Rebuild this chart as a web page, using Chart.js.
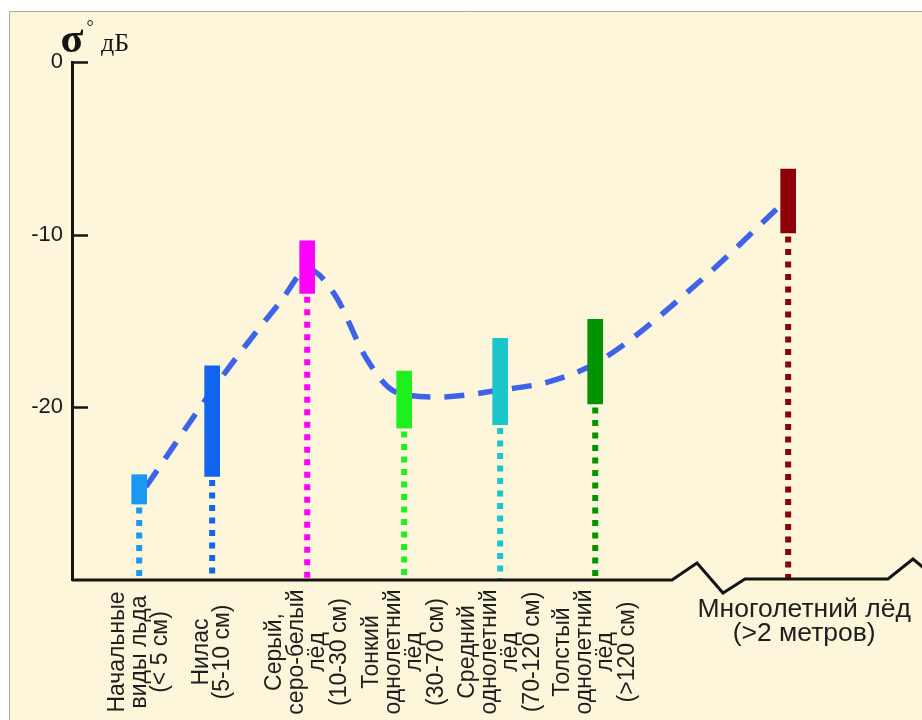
<!DOCTYPE html>
<html>
<head>
<meta charset="utf-8">
<script src="https://cdn.jsdelivr.net/npm/chart.js@4.4.1/dist/chart.umd.min.js"></script>
<style>
  html, body { margin: 0; padding: 0; background: #ffffff; }
  #wrap { width: 922px; height: 720px; position: relative; }
  canvas { display: block; }
</style>
</head>
<body>
<div id="wrap"><canvas id="c" width="922" height="720"></canvas></div>
<script>
// Ice types (multi-line captions) and their position along the horizontal axis
const categories = [
  ['Начальные', 'виды льда', '(< 5 см)'],
  ['Нилас', '(5-10 см)'],
  ['Серый,', 'серо-белый', 'лёд', '(10-30 см)'],
  ['Тонкий', 'однолетний', 'лёд', '(30-70 см)'],
  ['Средний', 'однолетний', 'лёд', '(70-120 см)'],
  ['Толстый', 'однолетний', 'лёд', '(>120 см)'],
  ['Многолетний лёд', '(>2 метров)']
];
const categoryPos = [0.70, 1.46, 2.45, 3.46, 4.46, 5.45, 7.46];

// Backscatter range, sigma0 in dB
const sigmaHigh = [-23.9, -17.6, -10.35, -17.9, -16.0, -14.9, -6.2];
const sigmaLow  = [-25.6, -24.0, -13.4, -21.2, -21.0, -19.8, -9.9];

// General trend curve
const trendPos   = [0.77, 1.54, 2.17, 2.46, 2.74, 3.07, 3.37, 3.83, 4.46, 4.98, 5.50, 6.54, 7.40];
const trendSigma = [-24.6, -18.4, -13.9, -12.0, -13.5, -17.2, -19.1, -19.4, -19.0, -18.5, -17.3, -12.7, -8.2];

// Axis
const yTicks = [0, -10, -20];
const yMin = -30, yMax = 0;

const barColors = ['#1a98f2', '#1064ee', '#ff00ff', '#1ef01e', '#1cc4cc', '#009300', '#8e0008'];
const trendColor = '#3f63e8';
const cream = '#fdf6da';
const ink = '#141414';

const datasets = [];
datasets.push({
  type: 'bar',
  data: categoryPos.map((x, i) => ({ x: x, y: [sigmaLow[i], sigmaHigh[i]] })),
  backgroundColor: barColors,
  borderWidth: 0,
  barThickness: 15,
  grouped: false,
  order: 0
});
datasets.push({
  type: 'line',
  data: trendPos.map((x, i) => ({ x: x, y: trendSigma[i] })),
  borderColor: trendColor,
  borderWidth: 5.5,
  borderDash: [20, 14],
  borderCapStyle: 'butt',
  cubicInterpolationMode: 'monotone',
  pointRadius: 0,
  fill: false,
  order: 1
});
// dotted stems from each range down to the base line
categoryPos.forEach((x, i) => {
  datasets.push({
    type: 'line',
    data: [{ x: x, y: sigmaLow[i] }, { x: x, y: yMin }],
    borderColor: barColors[i],
    borderWidth: 6,
    borderDash: [6, 6.5],
    borderDashOffset: 9,
    borderCapStyle: 'butt',
    pointRadius: 0,
    fill: false,
    order: 2
  });
});

const decor = {
  id: 'decor',
  beforeDraw(chart) {
    const ctx = chart.ctx;
    ctx.save();
    ctx.fillStyle = '#ffffff';
    ctx.fillRect(0, 0, chart.width, chart.height);
    ctx.fillStyle = cream;
    ctx.fillRect(9, 11, chart.width - 9, chart.height - 11);
    ctx.strokeStyle = '#a8a8a8';
    ctx.lineWidth = 1;
    ctx.beginPath();
    ctx.moveTo(9.5, chart.height);
    ctx.lineTo(9.5, 11.5);
    ctx.lineTo(chart.width, 11.5);
    ctx.stroke();
    ctx.restore();
  },
  afterDatasetsDraw(chart) {
    const ctx = chart.ctx;
    const xs = chart.scales.x, ys = chart.scales.y;
    const area = chart.chartArea;
    const base = ys.getPixelForValue(yMin);
    ctx.save();

    // base line with a break before the multi-year ice
    ctx.strokeStyle = ink;
    ctx.lineWidth = 3;
    ctx.lineJoin = 'miter';
    ctx.beginPath();
    ctx.moveTo(area.left, base);
    ctx.lineTo(672, base);
    ctx.lineTo(697, base - 17);
    ctx.lineTo(723, base + 13);
    ctx.lineTo(745, base - 1);
    ctx.lineTo(888, base - 1);
    ctx.lineTo(913, base - 21);
    ctx.lineTo(925, base - 11);
    ctx.stroke();

    // inward tick marks on the vertical axis
    ctx.lineWidth = 2.5;
    yTicks.forEach(v => {
      const y = Math.round(ys.getPixelForValue(v)) + 0.5;
      ctx.beginPath();
      ctx.moveTo(area.left, y);
      ctx.lineTo(area.left + 16, y);
      ctx.stroke();
    });

    // category captions
    ctx.fillStyle = '#1e1e1e';
    categories.forEach((lines, i) => {
      const px = xs.getPixelForValue(categoryPos[i]);
      if (i < categories.length - 1) {
        const lh = 21.5;
        ctx.save();
        ctx.translate(px, 652);
        ctx.rotate(-Math.PI / 2);
        ctx.font = '23px "Liberation Sans", Arial, sans-serif';
        ctx.textAlign = 'center';
        ctx.textBaseline = 'middle';
        lines.forEach((t, j) => {
          ctx.fillText(t, 0, (j - (lines.length - 1) / 2) * lh);
        });
        ctx.restore();
      } else {
        ctx.font = '26.5px "Liberation Sans", Arial, sans-serif';
        ctx.textAlign = 'center';
        ctx.textBaseline = 'middle';
        lines.forEach((t, j) => {
          ctx.fillText(t, px + 16, 610 + j * 23.5);
        });
      }
    });

    // axis title: sigma0, dB
    ctx.fillStyle = ink;
    ctx.textAlign = 'center';
    ctx.textBaseline = 'alphabetic';
    ctx.font = 'bold 42px "Liberation Serif", "Times New Roman", serif';
    ctx.fillText('σ', area.left, 52);
    ctx.font = '18px "Liberation Serif", serif';
    ctx.textBaseline = 'top';
    ctx.fillText('°', 90, 19);
    ctx.textAlign = 'left';
    ctx.textBaseline = 'alphabetic';
    ctx.font = '26px "Liberation Serif", serif';
    ctx.fillText('дБ', 101, 51);

    ctx.restore();
  }
};

new Chart(document.getElementById('c'), {
  type: 'bar',
  data: { datasets: datasets },
  options: {
    responsive: false,
    devicePixelRatio: 1,
    animation: false,
    layout: { padding: { left: 0, top: 62, right: 0, bottom: 140 } },
    plugins: { legend: { display: false }, tooltip: { enabled: false }, title: { display: false } },
    scales: {
      x: { type: 'linear', min: 0, max: 8.854, offset: false, display: false },
      y: {
        type: 'linear',
        min: yMin,
        max: yMax,
        position: 'left',
        afterFit: s => { s.width = 72; },
        grid: { display: false, drawTicks: false },
        border: { display: true, width: 3, color: ink },
        ticks: {
          stepSize: 10,
          padding: 9,
          color: '#1a1a1a',
          font: { family: '"Liberation Sans", Arial, sans-serif', size: 22 },
          callback: v => (yTicks.includes(v) ? String(v) : '')
        }
      }
    }
  },
  plugins: [decor]
});
</script>
</body>
</html>
